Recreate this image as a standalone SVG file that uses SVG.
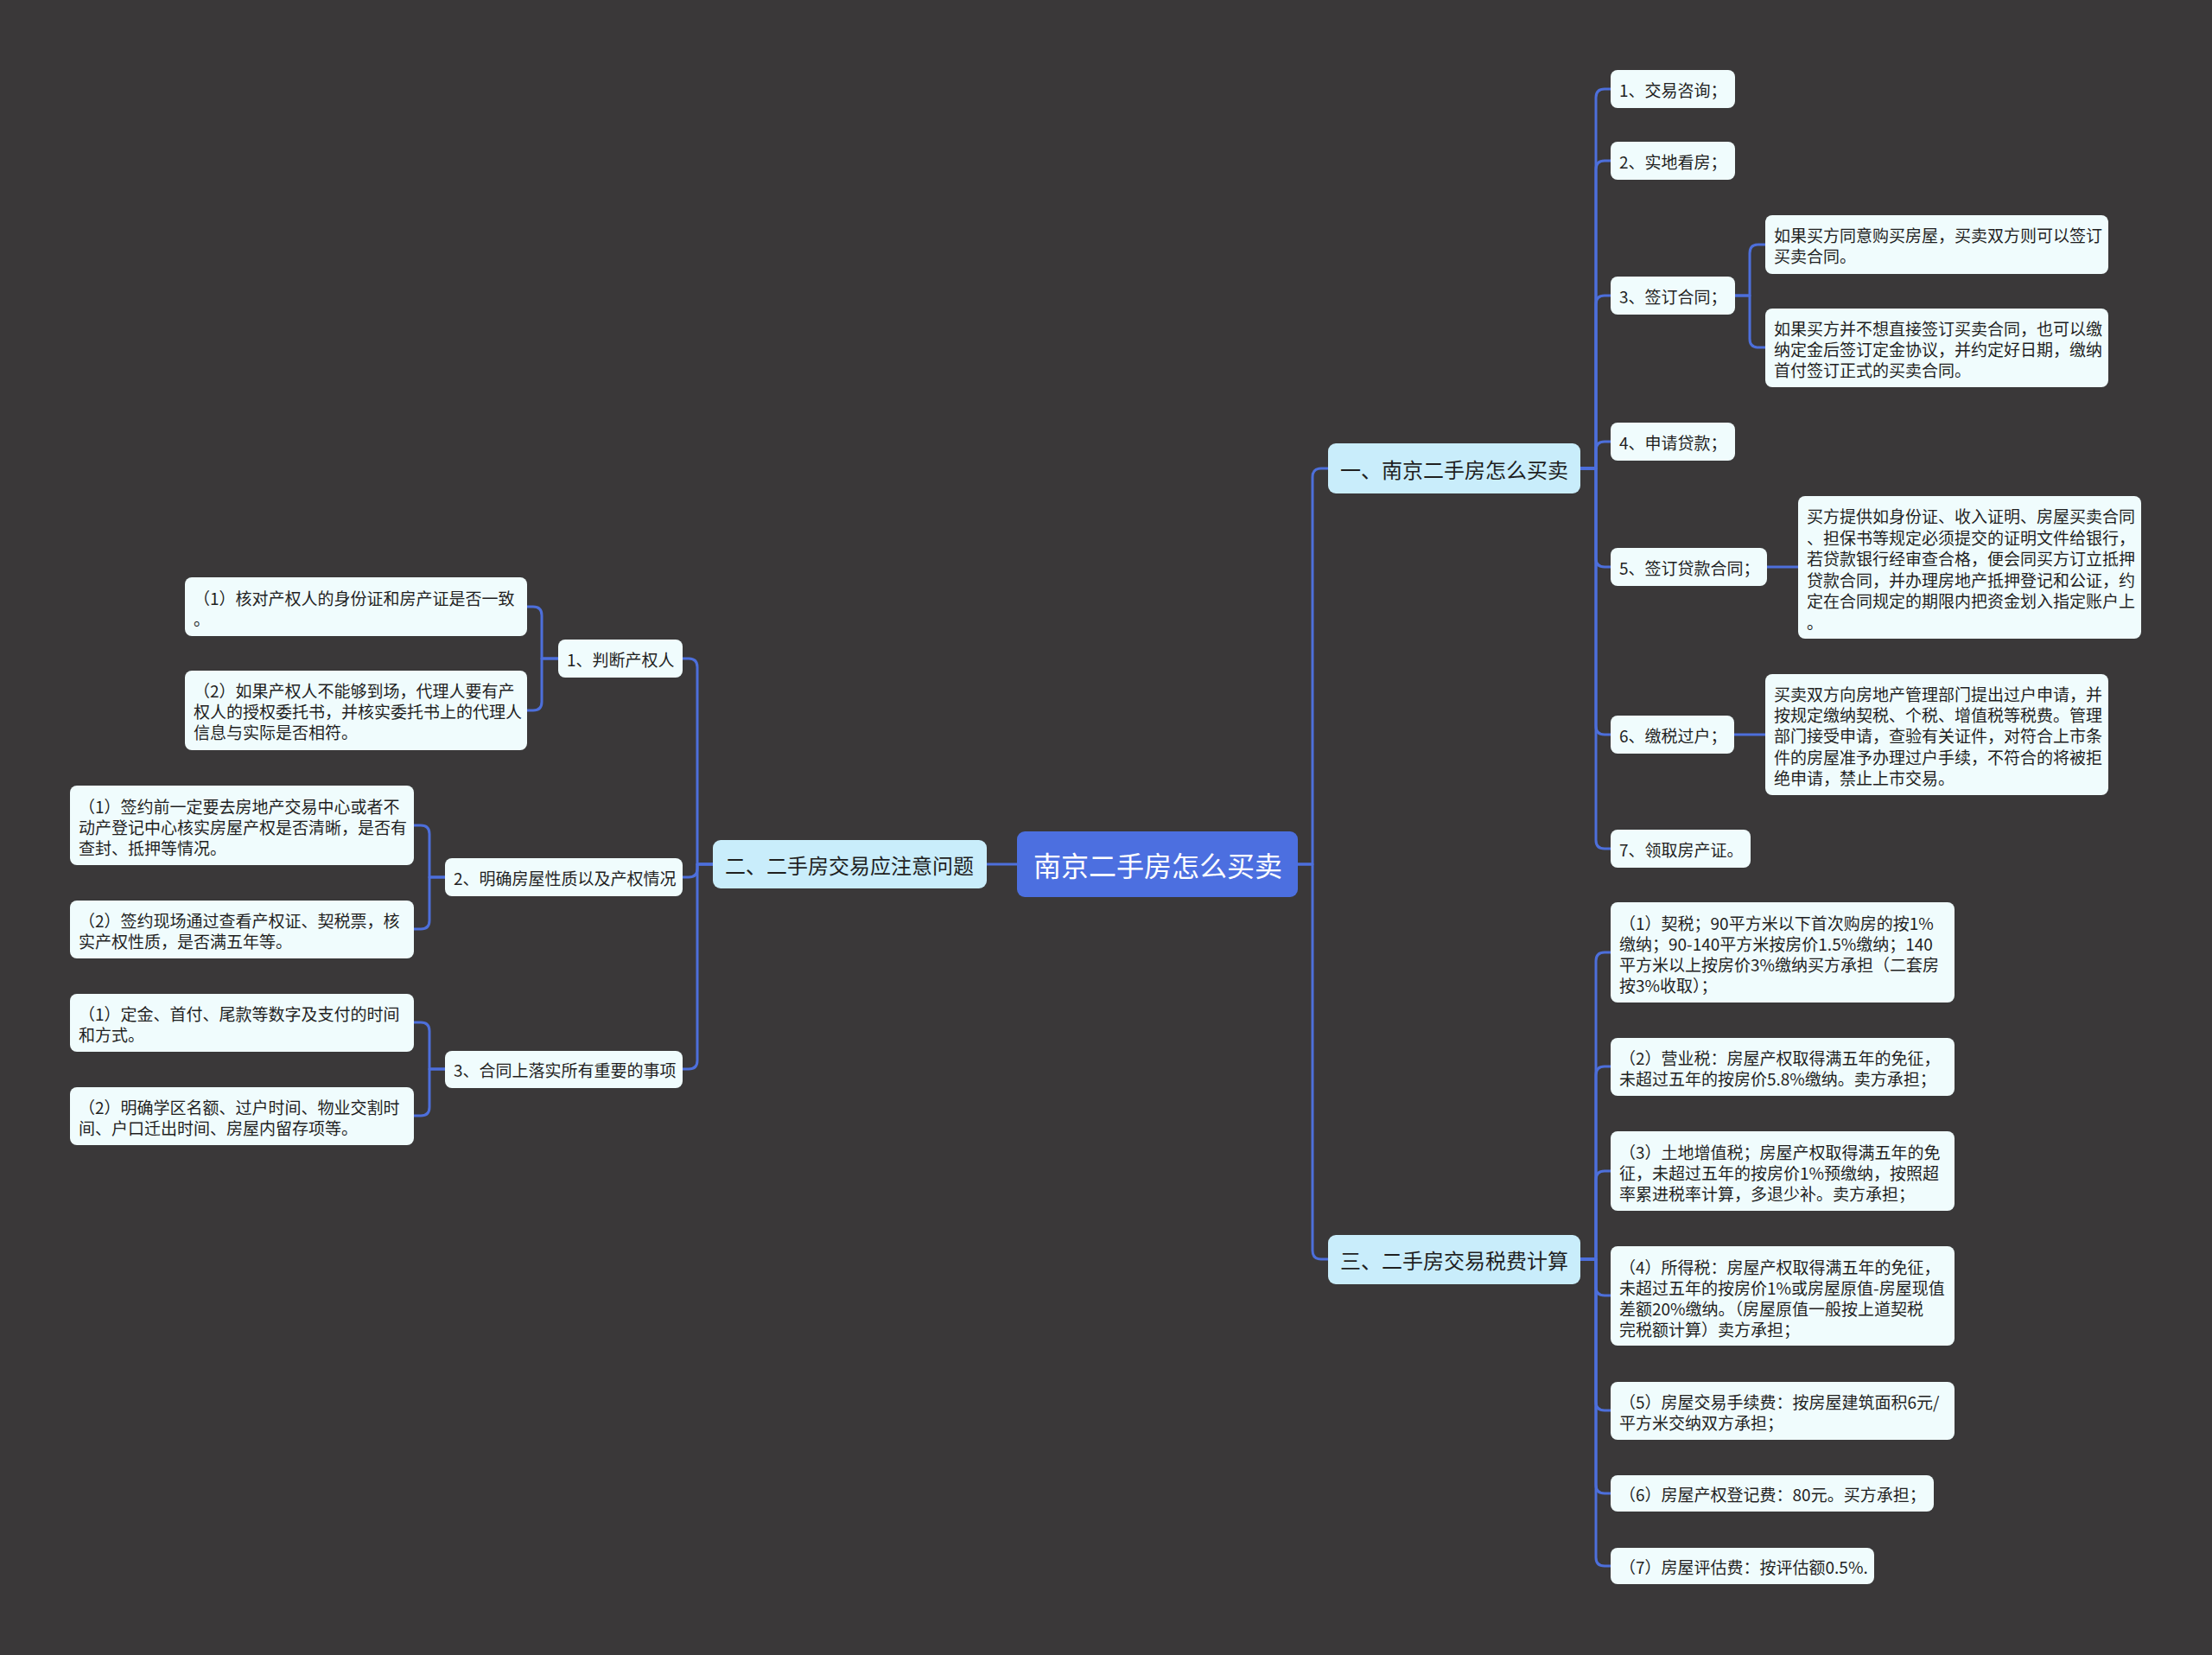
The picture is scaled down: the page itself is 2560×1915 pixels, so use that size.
<svg xmlns="http://www.w3.org/2000/svg" width="2560" height="1915" viewBox="0 0 2560 1915">
<style>
.bg{fill:#3a3839}
.c{fill:none;stroke:#4d6fdb;stroke-width:3;stroke-linecap:round;stroke-linejoin:round}
.root rect{fill:#4c6fe0}
.br rect{fill:#c9edfb}
.lf rect{fill:#f0fcfd}
text{font-family:"Noto Sans CJK SC","Microsoft YaHei",sans-serif;dominant-baseline:central;fill:#1f1f1f}
.root text{font-size:32px;fill:#ffffff;text-anchor:middle}
.br text{font-size:24px;text-anchor:middle}
.lf text{font-size:19px}
</style>
<rect class="bg" x="0" y="0" width="2560" height="1915"/>
<g id="connectors">
<!-- root -->
<path class="c" d="M1502 1000 H1519 V552 Q1519 542 1529 542 H1537"/>
<path class="c" d="M1502 1000 H1519 V1447 Q1519 1457 1529 1457 H1537"/>
<path class="c" d="M1177 1000 H1142"/>
<!-- branch 1 -->
<path class="c" d="M1829 542 H1847 V113 Q1847 103 1857 103 H1864"/>
<path class="c" d="M1829 542 H1847 V196 Q1847 186 1857 186 H1864"/>
<path class="c" d="M1829 542 H1847 V352 Q1847 342 1857 342 H1864"/>
<path class="c" d="M1829 542 H1847 V521 Q1847 511 1857 511 H1864"/>
<path class="c" d="M1829 542 H1847 V646 Q1847 656 1857 656 H1864"/>
<path class="c" d="M1829 542 H1847 V840 Q1847 850 1857 850 H1864"/>
<path class="c" d="M1829 542 H1847 V972 Q1847 982 1857 982 H1864"/>
<path class="c" d="M2008 342 H2025 V293 Q2025 283 2035 283 H2043"/>
<path class="c" d="M2008 342 H2025 V392 Q2025 402 2035 402 H2043"/>
<path class="c" d="M2045 656 H2081"/>
<path class="c" d="M2007 850 H2043"/>
<!-- branch 3 -->
<path class="c" d="M1829 1457 H1847 V1112 Q1847 1102 1857 1102 H1864"/>
<path class="c" d="M1829 1457 H1847 V1244 Q1847 1234 1857 1234 H1864"/>
<path class="c" d="M1829 1457 H1847 V1365 Q1847 1355 1857 1355 H1864"/>
<path class="c" d="M1829 1457 H1847 V1489 Q1847 1499 1857 1499 H1864"/>
<path class="c" d="M1829 1457 H1847 V1622 Q1847 1632 1857 1632 H1864"/>
<path class="c" d="M1829 1457 H1847 V1718 Q1847 1728 1857 1728 H1864"/>
<path class="c" d="M1829 1457 H1847 V1802 Q1847 1812 1857 1812 H1864"/>
<!-- branch 2 -->
<path class="c" d="M825 1000 H807 V772 Q807 762 797 762 H790"/>
<path class="c" d="M825 1000 H807 V1005 Q807 1015 797 1015 H790"/>
<path class="c" d="M825 1000 H807 V1227 Q807 1237 797 1237 H790"/>
<path class="c" d="M646 762 H627 V712 Q627 702 617 702 H610"/>
<path class="c" d="M646 762 H627 V812 Q627 822 617 822 H610"/>
<path class="c" d="M515 1015 H497 V965 Q497 955 487 955 H479"/>
<path class="c" d="M515 1015 H497 V1065 Q497 1075 487 1075 H479"/>
<path class="c" d="M515 1237 H497 V1193 Q497 1183 487 1183 H479"/>
<path class="c" d="M515 1237 H497 V1281 Q497 1291 487 1291 H479"/>
</g>

<g id="root" class="root"><rect x="1177" y="962" width="325" height="76" rx="9"/><text x="1340" y="1000">南京二手房怎么买卖</text></g>

<g id="b1" class="br"><rect x="1537" y="513" width="292" height="58" rx="9"/><text x="1683" y="542">一、南京二手房怎么买卖</text></g>
<g id="b2" class="br"><rect x="825" y="972" width="317" height="56" rx="9"/><text x="983" y="1000">二、二手房交易应注意问题</text></g>
<g id="b3" class="br"><rect x="1537" y="1429" width="292" height="57" rx="9"/><text x="1683" y="1457">三、二手房交易税费计算</text></g>

<g id="n1-1" class="lf"><rect x="1864" y="81" width="144" height="44" rx="8"/><text x="1874" y="103">1、交易咨询；</text></g>
<g id="n1-2" class="lf"><rect x="1864" y="164" width="144" height="44" rx="8"/><text x="1874" y="186">2、实地看房；</text></g>
<g id="n1-3" class="lf"><rect x="1864" y="320" width="144" height="44" rx="8"/><text x="1874" y="342">3、签订合同；</text></g>
<g id="n1-3a" class="lf"><rect x="2043" y="249" width="397" height="68" rx="8"/><text x="2053"><tspan x="2053" y="271">如果买方同意购买房屋，买卖双方则可以签订</tspan><tspan x="2053" y="295">买卖合同。</tspan></text></g>
<g id="n1-3b" class="lf"><rect x="2043" y="357" width="397" height="91" rx="8"/><text x="2053"><tspan x="2053" y="379">如果买方并不想直接签订买卖合同，也可以缴</tspan><tspan x="2053" y="403">纳定金后签订定金协议，并约定好日期，缴纳</tspan><tspan x="2053" y="427">首付签订正式的买卖合同。</tspan></text></g>
<g id="n1-4" class="lf"><rect x="1864" y="489" width="144" height="44" rx="8"/><text x="1874" y="511">4、申请贷款；</text></g>
<g id="n1-5" class="lf"><rect x="1864" y="634" width="181" height="44" rx="8"/><text x="1874" y="656">5、签订贷款合同；</text></g>
<g id="n1-5a" class="lf"><rect x="2081" y="574" width="397" height="165" rx="8"/><text x="2091"><tspan x="2091" y="596">买方提供如身份证、收入证明、房屋买卖合同</tspan><tspan x="2091" y="620.5">、担保书等规定必须提交的证明文件给银行，</tspan><tspan x="2091" y="645">若贷款银行经审查合格，便会同买方订立抵押</tspan><tspan x="2091" y="669.5">贷款合同，并办理房地产抵押登记和公证，约</tspan><tspan x="2091" y="694">定在合同规定的期限内把资金划入指定账户上</tspan><tspan x="2091" y="718.5">。</tspan></text></g>
<g id="n1-6" class="lf"><rect x="1864" y="828" width="143" height="44" rx="8"/><text x="1874" y="850">6、缴税过户；</text></g>
<g id="n1-6a" class="lf"><rect x="2043" y="780" width="397" height="140" rx="8"/><text x="2053"><tspan x="2053" y="802">买卖双方向房地产管理部门提出过户申请，并</tspan><tspan x="2053" y="826">按规定缴纳契税、个税、增值税等税费。管理</tspan><tspan x="2053" y="850">部门接受申请，查验有关证件，对符合上市条</tspan><tspan x="2053" y="875">件的房屋准予办理过户手续，不符合的将被拒</tspan><tspan x="2053" y="899">绝申请，禁止上市交易。</tspan></text></g>
<g id="n1-7" class="lf"><rect x="1864" y="960" width="162" height="44" rx="8"/><text x="1874" y="982">7、领取房产证。</text></g>

<g id="n3-1" class="lf"><rect x="1864" y="1044" width="398" height="116" rx="8"/><text x="1874"><tspan x="1874" y="1067">（1）契税；90平方米以下首次购房的按1%</tspan><tspan x="1874" y="1091">缴纳；90-140平方米按房价1.5%缴纳；140</tspan><tspan x="1874" y="1115">平方米以上按房价3%缴纳买方承担（二套房</tspan><tspan x="1874" y="1139">按3%收取）；</tspan></text></g>
<g id="n3-2" class="lf"><rect x="1864" y="1201" width="398" height="67" rx="8"/><text x="1874"><tspan x="1874" y="1223">（2）营业税：房屋产权取得满五年的免征，</tspan><tspan x="1874" y="1247">未超过五年的按房价5.8%缴纳。卖方承担；</tspan></text></g>
<g id="n3-3" class="lf"><rect x="1864" y="1309" width="398" height="92" rx="8"/><text x="1874"><tspan x="1874" y="1332">（3）土地增值税；房屋产权取得满五年的免</tspan><tspan x="1874" y="1356">征，未超过五年的按房价1%预缴纳，按照超</tspan><tspan x="1874" y="1380">率累进税率计算，多退少补。卖方承担；</tspan></text></g>
<g id="n3-4" class="lf"><rect x="1864" y="1442" width="398" height="115" rx="8"/><text x="1874"><tspan x="1874" y="1465">（4）所得税：房屋产权取得满五年的免征，</tspan><tspan x="1874" y="1489">未超过五年的按房价1%或房屋原值-房屋现值</tspan><tspan x="1874" y="1513">差额20%缴纳。（房屋原值一般按上道契税</tspan><tspan x="1874" y="1537">完税额计算）卖方承担；</tspan></text></g>
<g id="n3-5" class="lf"><rect x="1864" y="1599" width="398" height="67" rx="8"/><text x="1874"><tspan x="1874" y="1621">（5）房屋交易手续费：按房屋建筑面积6元/</tspan><tspan x="1874" y="1645">平方米交纳双方承担；</tspan></text></g>
<g id="n3-6" class="lf"><rect x="1864" y="1707" width="374" height="42" rx="8"/><text x="1874" y="1728">（6）房屋产权登记费：80元。买方承担；</text></g>
<g id="n3-7" class="lf"><rect x="1864" y="1791" width="305" height="42" rx="8"/><text x="1874" y="1812">（7）房屋评估费：按评估额0.5%.</text></g>

<g id="n2-1" class="lf"><rect x="646" y="740" width="144" height="44" rx="8"/><text x="656" y="762">1、判断产权人</text></g>
<g id="n2-1a" class="lf"><rect x="214" y="668" width="396" height="68" rx="8"/><text x="224"><tspan x="224" y="691">（1）核对产权人的身份证和房产证是否一致</tspan><tspan x="224" y="715">。</tspan></text></g>
<g id="n2-1b" class="lf"><rect x="214" y="776" width="396" height="92" rx="8"/><text x="224"><tspan x="224" y="798">（2）如果产权人不能够到场，代理人要有产</tspan><tspan x="224" y="822">权人的授权委托书，并核实委托书上的代理人</tspan><tspan x="224" y="846">信息与实际是否相符。</tspan></text></g>
<g id="n2-2" class="lf"><rect x="515" y="993" width="275" height="44" rx="8"/><text x="525" y="1015">2、明确房屋性质以及产权情况</text></g>
<g id="n2-2a" class="lf"><rect x="81" y="909" width="398" height="92" rx="8"/><text x="91"><tspan x="91" y="932">（1）签约前一定要去房地产交易中心或者不</tspan><tspan x="91" y="956">动产登记中心核实房屋产权是否清晰，是否有</tspan><tspan x="91" y="980">查封、抵押等情况。</tspan></text></g>
<g id="n2-2b" class="lf"><rect x="81" y="1042" width="398" height="67" rx="8"/><text x="91"><tspan x="91" y="1064">（2）签约现场通过查看产权证、契税票，核</tspan><tspan x="91" y="1088">实产权性质，是否满五年等。</tspan></text></g>
<g id="n2-3" class="lf"><rect x="515" y="1216" width="275" height="43" rx="8"/><text x="525" y="1237">3、合同上落实所有重要的事项</text></g>
<g id="n2-3a" class="lf"><rect x="81" y="1150" width="398" height="67" rx="8"/><text x="91"><tspan x="91" y="1172">（1）定金、首付、尾款等数字及支付的时间</tspan><tspan x="91" y="1196">和方式。</tspan></text></g>
<g id="n2-3b" class="lf"><rect x="81" y="1258" width="398" height="67" rx="8"/><text x="91"><tspan x="91" y="1280">（2）明确学区名额、过户时间、物业交割时</tspan><tspan x="91" y="1304">间、户口迁出时间、房屋内留存项等。</tspan></text></g>
</svg>
